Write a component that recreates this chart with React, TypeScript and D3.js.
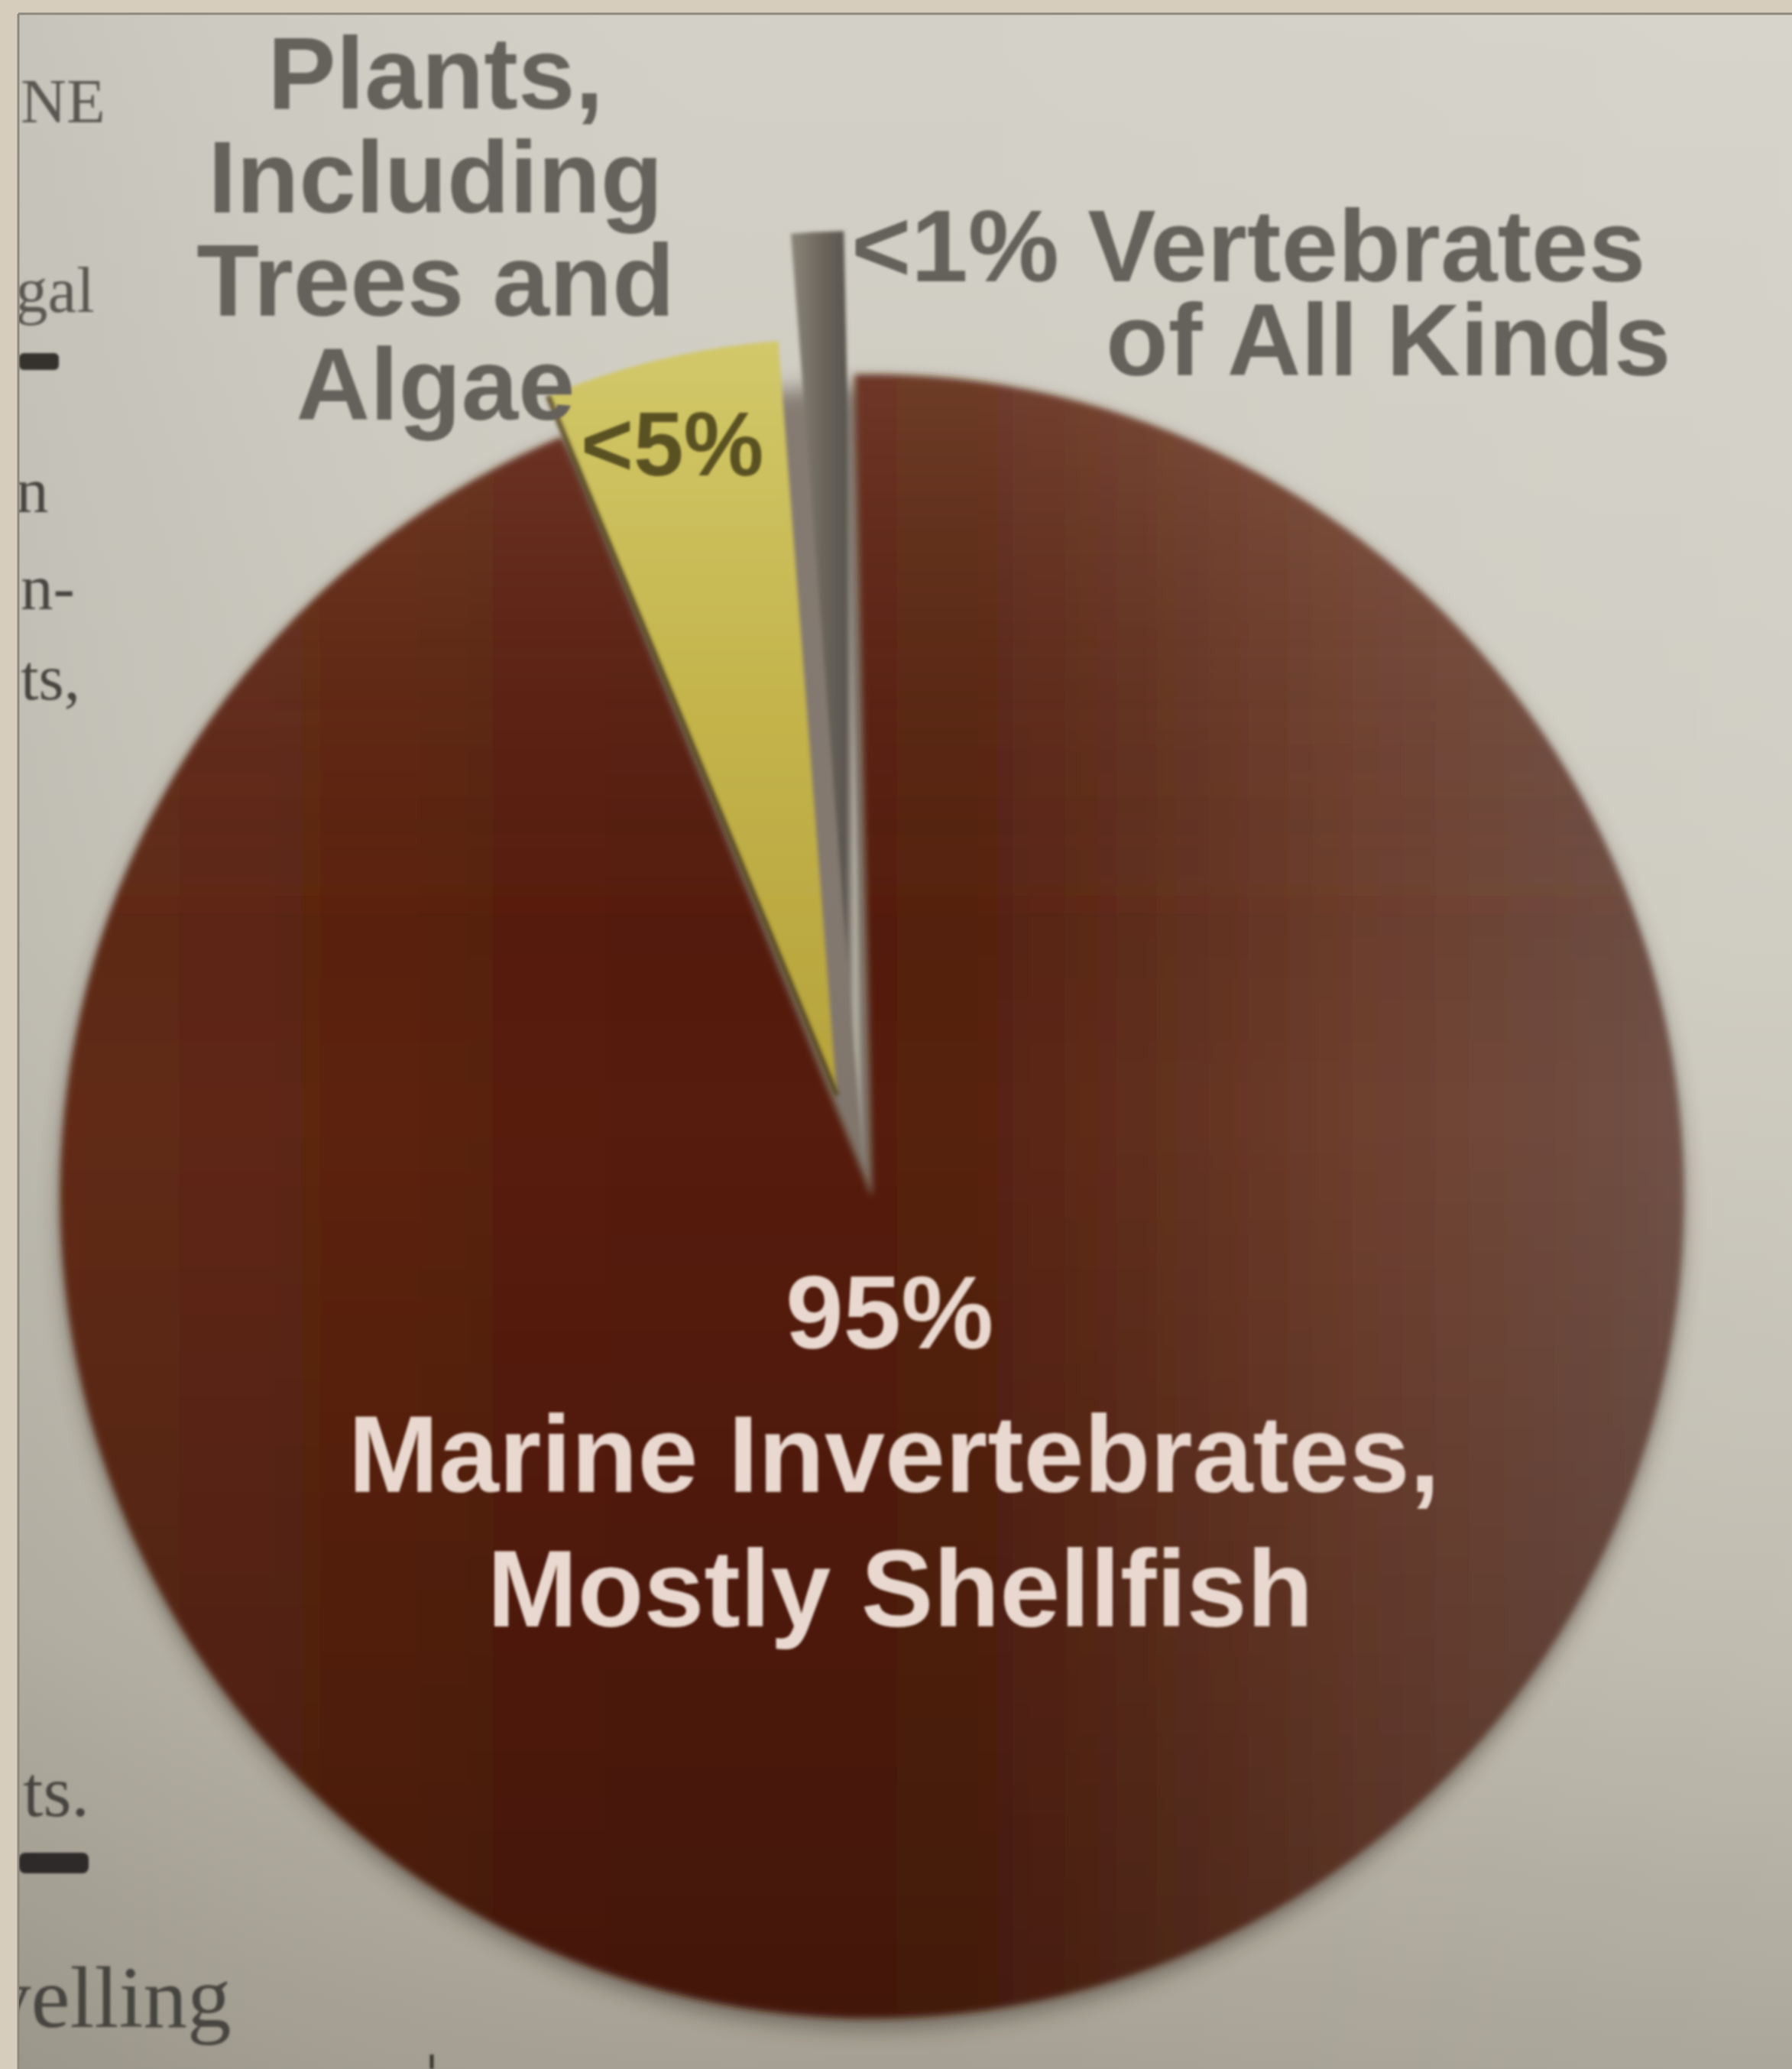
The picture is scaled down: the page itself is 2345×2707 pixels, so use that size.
import React from 'react';
import * as d3 from 'd3';

// ---- data ----
const categories = ['Marine Invertebrates', 'Plants', 'Vertebrates'];
const shares = [94.1, 5.0, 0.9];
const percentLabels = ['95%', '<5%', '<1%'];
const plantsLabelLines = ['Plants,', 'Including', 'Trees and', 'Algae'];
const vertebrateLabelLines = ['<1% Vertebrates', 'of All Kinds'];
const marineLabelLines = ['Marine Invertebrates,', 'Mostly Shellfish'];

// ---- layout ----
const W = 2345;
const H = 2707;
const CX = 1141;
const CY = 1565;
const R = 1062;
const BROWN_Y_STRETCH = 1.012;
const START_DEG = -1.2;
const sliceOuter = [R, 990, 1227];
const sliceOffset: [number, number][] = [[0, 0], [-46, -132], [-11, -36]];
const sliceFill = ['url(#brownBase)', 'url(#yellowGrad)', 'url(#grayGrad)'];
const sliceFilter = ['url(#blurEdge)', 'url(#blurSoft)', 'url(#blurSoft)'];

export default function App() {
  const start = (START_DEG * Math.PI) / 180;
  const pie = d3
    .pie<number>()
    .sort(null)
    .value((d) => d)
    .startAngle(start)
    .endAngle(start + 2 * Math.PI);
  const arcs = pie(shares);

  const arcFor = (i: number) =>
    d3.arc<d3.PieArcDatum<number>>().innerRadius(0).outerRadius(sliceOuter[i]);

  const fullDisc = d3.arc()({ innerRadius: 0, outerRadius: R, startAngle: 0, endAngle: 2 * Math.PI } as any) as string;

  // dark shadow line along the left edge of the plants slice
  const yArc = arcs[1];
  const yR = sliceOuter[1];
  const edgeLine = d3.line()([
    [0, 0],
    [yR * Math.sin(yArc.startAngle), -yR * Math.cos(yArc.startAngle)],
  ]) as string;

  const darkText = '#65625b';
  const sans = "'Liberation Sans', Arial, Helvetica, sans-serif";
  const serif = "'Liberation Serif', 'Times New Roman', serif";

  const sliceTransform = (i: number) =>
    i === 0
      ? `translate(${CX},${CY}) scale(1,${BROWN_Y_STRETCH})`
      : `translate(${CX + sliceOffset[i][0]},${CY + sliceOffset[i][1]})`;

  return (
    <svg
      width={W}
      height={H}
      viewBox={`0 0 ${W} ${H}`}
      style={{ position: 'absolute', left: 0, top: 0, display: 'block' }}
    >
      <defs>
        <linearGradient id="paper" x1="0" y1="0" x2="0" y2="1">
          <stop offset="0" stopColor="#d3d1c7" />
          <stop offset="0.45" stopColor="#ccc9be" />
          <stop offset="0.78" stopColor="#bcb8ab" />
          <stop offset="1" stopColor="#a5a093" />
        </linearGradient>
        <linearGradient id="paperH" x1="0" y1="0" x2="1" y2="0">
          <stop offset="0" stopColor="#000" stopOpacity="0.06" />
          <stop offset="0.5" stopColor="#fff" stopOpacity="0" />
          <stop offset="1" stopColor="#fff" stopOpacity="0.08" />
        </linearGradient>
        <linearGradient id="brownBase" x1="0" y1="0.5" x2="1" y2="0.5">
          <stop offset="0" stopColor="#622c18" />
          <stop offset="0.3" stopColor="#581e0b" />
          <stop offset="0.55" stopColor="#56200e" />
          <stop offset="0.8" stopColor="#6e3f2e" />
          <stop offset="1" stopColor="#715247" />
        </linearGradient>
        <linearGradient id="brownShade" x1="0" y1="0" x2="0" y2="1">
          <stop offset="0" stopColor="#ffdcc8" stopOpacity="0.14" />
          <stop offset="0.45" stopColor="#000" stopOpacity="0" />
          <stop offset="1" stopColor="#1a0c06" stopOpacity="0.22" />
        </linearGradient>
        <linearGradient id="yellowGrad" x1="0" y1="0" x2="0" y2="1">
          <stop offset="0" stopColor="#d2c86a" />
          <stop offset="0.5" stopColor="#c3b34a" />
          <stop offset="1" stopColor="#b6a33c" />
        </linearGradient>
        <linearGradient id="grayGrad" x1="0" y1="0.5" x2="1" y2="0.5">
          <stop offset="0" stopColor="#8a8579" />
          <stop offset="0.45" stopColor="#6a655b" />
          <stop offset="0.75" stopColor="#5a564f" />
          <stop offset="0.88" stopColor="#b3aea2" />
          <stop offset="1" stopColor="#8c877c" />
        </linearGradient>
        <filter id="blurEdge" x="-5%" y="-5%" width="110%" height="110%">
          <feGaussianBlur stdDeviation="4" />
        </filter>
        <filter id="blurSoft" x="-10%" y="-10%" width="120%" height="120%">
          <feGaussianBlur stdDeviation="2.5" />
        </filter>
        <filter id="blurShadow" x="-10%" y="-10%" width="120%" height="120%">
          <feGaussianBlur stdDeviation="14" />
        </filter>
        <filter id="blurText" x="-5%" y="-20%" width="110%" height="140%">
          <feGaussianBlur stdDeviation="1.4" />
        </filter>
        <clipPath id="pageClip">
          <rect x={25} y={20} width={W - 25} height={H - 20} />
        </clipPath>
      </defs>

      {/* outer beige frame */}
      <rect x={0} y={0} width={W} height={H} fill="#d6cdbd" />
      {/* page */}
      <rect x={24} y={18} width={W - 24} height={H - 18} fill="url(#paper)" />
      <rect x={24} y={18} width={W - 24} height={H - 18} fill="url(#paperH)" />
      <line x1={24} y1={18} x2={24} y2={H} stroke="#8e897f" strokeWidth={3} />
      <line x1={24} y1={18} x2={W} y2={18} stroke="#8e897f" strokeWidth={3} />

      {/* fragments of the neighbouring page text */}
      <g clipPath="url(#pageClip)" fill="#47443f" fontFamily={serif} filter="url(#blurText)">
        <text x={27} y={160} fontSize={83} fill="#5a5751">NE</text>
        <text x={20} y={408} fontSize={85} fill="#5a5751">gal</text>
        <rect x={25} y={462} width={52} height={22} rx={6} fill="#35322e" />
        <text x={21} y={670} fontSize={85}>n</text>
        <text x={27} y={797} fontSize={85}>n-</text>
        <text x={27} y={915} fontSize={85}>ts,</text>
        <text x={30} y={2376} fontSize={95}>ts.</text>
        <rect x={25} y={2424} width={91} height={27} rx={8} fill="#2f2c29" />
        <text x={-17} y={2652} fontSize={115}>velling</text>
        <line x1={565} y1={2688} x2={565} y2={H} stroke="#3a3733" strokeWidth={5} />
      </g>

      {/* pie shadow */}
      <path
        d={fullDisc}
        transform={`translate(${CX},${CY + 14}) scale(1,${BROWN_Y_STRETCH})`}
        fill="#3b2a22"
        opacity={0.5}
        filter="url(#blurShadow)"
      />

      {/* slices */}
      {arcs.map((a, i) => (
        <g key={categories[i]} transform={sliceTransform(i)}>
          <path d={arcFor(i)(a) as string} fill={sliceFill[i]} filter={sliceFilter[i]} />
          {i === 0 && <path d={arcFor(i)(a) as string} fill="url(#brownShade)" filter={sliceFilter[i]} />}
        </g>
      ))}
      <path
        d={edgeLine}
        transform={sliceTransform(1)}
        stroke="#4e3e1c"
        strokeWidth={7}
        opacity={0.8}
        filter="url(#blurSoft)"
      />

      {/* labels */}
      <g fontFamily={sans} fontWeight="bold" filter="url(#blurText)">
        {plantsLabelLines.map((t, i) => (
          <text key={t} x={570} y={142 + i * 135.5} fontSize={134} fill={darkText} textAnchor="middle">
            {t}
          </text>
        ))}
        <text x={760} y={622} fontSize={118} fill="#5a5120">
          {percentLabels[1]}
        </text>
        <text x={1114} y={368} fontSize={134} fill={darkText}>
          {vertebrateLabelLines[0]}
        </text>
        <text x={1447} y={491} fontSize={134} fill={darkText}>
          {vertebrateLabelLines[1]}
        </text>
        <text x={1164} y={1764} fontSize={136} fill="#e8d8cf" textAnchor="middle">
          {percentLabels[0]}
        </text>
        <text x={1170} y={1952} fontSize={142} fill="#e8d8cf" textAnchor="middle">
          {marineLabelLines[0]}
        </text>
        <text x={1178} y={2128} fontSize={142} fill="#e8d8cf" textAnchor="middle">
          {marineLabelLines[1]}
        </text>
      </g>
    </svg>
  );
}
